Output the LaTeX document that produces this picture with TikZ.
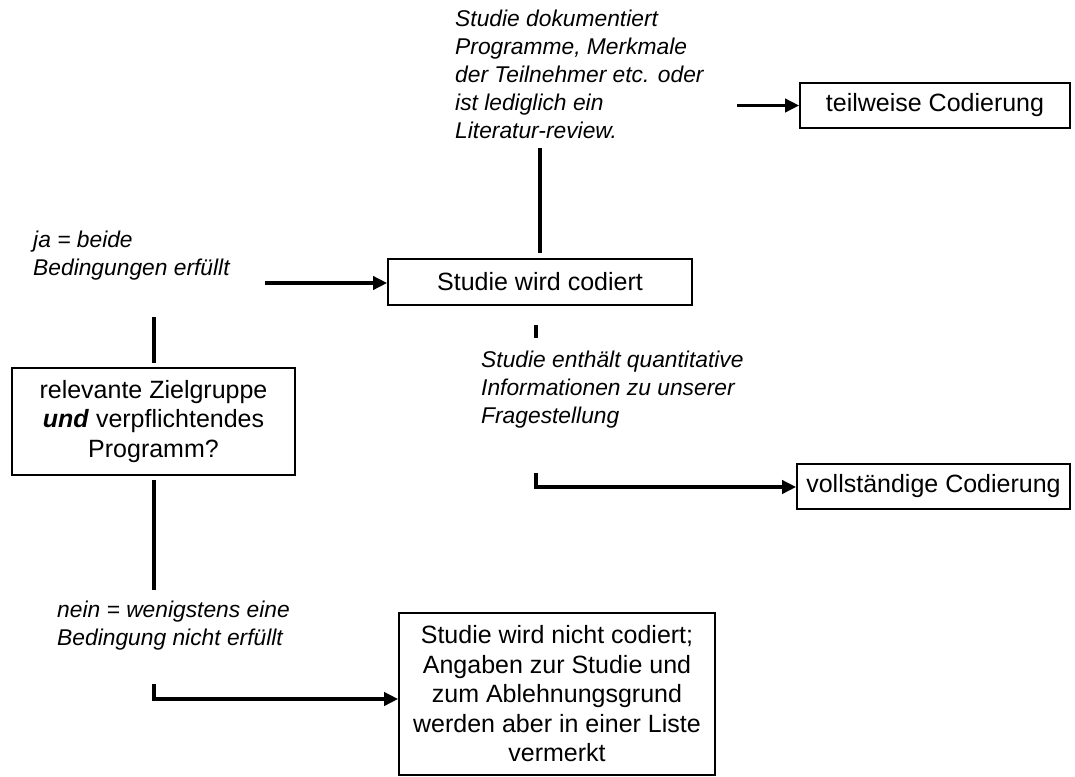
\documentclass[tikz,border=0pt]{standalone}
\usepackage{fontspec}
\setmainfont{Liberation Sans}
\usetikzlibrary{arrows.meta}
\begin{document}
\begin{tikzpicture}[x=1pt,y=-1pt,
  box/.style={draw,line width=1.6pt,inner sep=0pt,align=center,font=\fontsize{25}{29.5}\selectfont},
  lbl/.style={inner sep=0pt,align=left,font=\fontsize{22.8}{28}\selectfont\itshape},
  conn/.style={line width=3.6pt},
  arr/.style={line width=3.6pt,-{Triangle[length=14pt,width=13pt]}}]
\useasboundingbox (0,0) rectangle (1075,776);
% nodes
\node[lbl,anchor=west] (top) at (455,74) {Studie dokumentiert\\Programme, Merkmale\\der Teilnehmer etc. oder\\ist lediglich ein\\Literatur-review.};
\node[box,minimum width=270pt,minimum height=45pt] (teil) at (935,105.5) {teilweise Codierung};
\node[box,minimum width=304pt,minimum height=46pt] (cod) at (540,282) {Studie wird codiert};
\node[lbl,anchor=west] (ja) at (33,256) {ja = beide\\Bedingungen erfüllt};
\node[box,minimum width=283pt,minimum height=107pt] (rel) at (153.5,421.5) {relevante Zielgruppe\\\textbf{\textit{und}} verpflichtendes\\Programm?};
\node[lbl,anchor=west] (nein) at (57,626) {nein = wenigstens eine\\Bedingung nicht erfüllt};
\node[box,minimum width=316pt,minimum height=162pt] (nicht) at (557,694) {Studie wird nicht codiert;\\Angaben zur Studie und\\zum Ablehnungsgrund\\werden aber in einer Liste\\vermerkt};
\node[lbl,anchor=west] (ent) at (481,390) {Studie enthält quantitative\\Informationen zu unserer\\Fragestellung};
\node[box,minimum width=273pt,minimum height=45pt] (voll) at (933.5,486.5) {vollständige Codierung};
% free ends
\coordinate (a1) at (737,105.5);
\coordinate (v1a) at (540,148);
\coordinate (v1b) at (540,253);
\coordinate (a2) at (265,283);
\coordinate (v2a) at (154,317);
\coordinate (v2b) at (154,363);
\coordinate (v3a) at (154,480);
\coordinate (v3b) at (154,590);
\coordinate (l1) at (154,684);
\coordinate (l1c) at (154,699);
\coordinate (v4a) at (536,325);
\coordinate (v4b) at (536,338);
\coordinate (l2) at (536,473);
\coordinate (l2c) at (536,487);
% connectors
\draw[arr] (a1) -- (teil.west);
\draw[conn] (v1a) -- (v1b);
\draw[arr] (a2) -- (a2 -| cod.west);
\draw[conn] (v2a) -- (v2b);
\draw[conn] (v3a) -- (v3b);
\draw[arr,line join=miter] (l1) -- (l1c) -- (l1c -| nicht.west);
\draw[conn] (v4a) -- (v4b);
\draw[arr,line join=miter] (l2) -- (l2c) -- (l2c -| voll.west);
\end{tikzpicture}
\end{document}
